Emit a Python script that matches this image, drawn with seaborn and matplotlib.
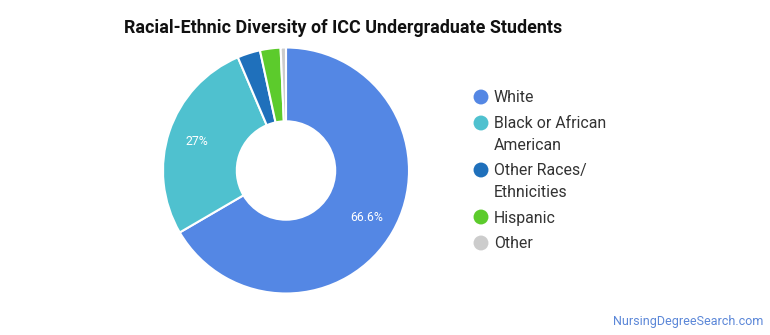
import matplotlib
matplotlib.use("Agg")
import matplotlib.pyplot as plt
import seaborn as sns

# Share of undergraduate students by race/ethnicity (%)
categories = ["White", "Black or African\nAmerican", "Other Races/\nEthnicities", "Hispanic", "Other"]
shares = [66.6, 27.0, 3.0, 2.7, 0.7]
colors = ["#5487E4", "#4FC1CF", "#1F70BB", "#5CCB2C", "#CCCCCC"]

title = "Racial-Ethnic Diversity of ICC Undergraduate Students"
source = "NursingDegreeSearch.com"

sns.set_theme(style="white")
plt.rcParams["font.family"] = ["Roboto", "DejaVu Sans"]
palette = sns.color_palette(colors)

W, H = 770, 335
fig = plt.figure(figsize=(W / 100, H / 100), dpi=100)
fig.patch.set_facecolor("white")

# donut axes: centre (286, 170), outer radius ~123 px
R = 123
cx, cy = 286, 170.5
ax = fig.add_axes([(cx - R) / W, (H - cy - R) / H, 2 * R / W, 2 * R / H])


def pct_label(p):
    return f"{round(p, 1):g}%" if p >= 5 else ""


wedges, _, autotexts = ax.pie(
    shares,
    colors=palette,
    startangle=90,
    counterclock=False,
    radius=1.0,
    autopct=pct_label,
    pctdistance=0.76,
    wedgeprops=dict(width=0.6, edgecolor="white", linewidth=1.5),
    textprops=dict(color="white", fontsize=8.8),
)
ax.set_aspect("equal")
ax.set_xlim(-1, 1)
ax.set_ylim(-1, 1)
ax.axis("off")

fig.text(343 / W, 1 - 28 / H, title, ha="center", va="center",
         fontsize=12.9, fontweight="bold", color="#111111")

# legend drawn in pixel coordinates
lax = fig.add_axes([0, 0, 1, 1])
lax.set_xlim(0, W)
lax.set_ylim(H, 0)
lax.axis("off")
rows = [97, 123, 170, 217, 243]
for y, label, c in zip(rows, categories, palette):
    lax.scatter([481], [y], s=115, color=c, edgecolors="none")
    lax.text(494, y - 6.5, label, ha="left", va="top", fontsize=11.4,
             color="#333333", linespacing=1.58)

fig.text(763 / W, 1 - 321 / H, source, ha="right", va="center",
         fontsize=9, color="#5B87D8")

fig.savefig("out.png", dpi=100, facecolor="white")
